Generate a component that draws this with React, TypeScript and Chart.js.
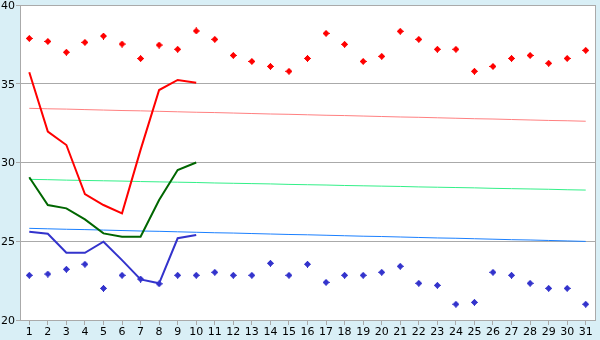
import React, { useEffect, useRef } from "react";
import { Chart, registerables } from "chart.js";

Chart.register(...registerables);

const days = Array.from({ length: 31 }, (_, i) => String(i + 1));

const maxPoints = [37.88, 37.69, 37.0, 37.63, 38.03, 37.52, 36.6, 37.46, 37.19, 38.35, 37.82, 36.8, 36.42, 36.1, 35.79, 36.61, 38.2, 37.5, 36.42, 36.74, 38.33, 37.82, 37.19, 37.19, 35.79, 36.1, 36.61, 36.8, 36.3, 36.61, 37.12];
const minPoints = [22.84, 22.92, 23.22, 23.54, 22.01, 22.84, 22.6, 22.3, 22.84, 22.84, 23.03, 22.84, 22.84, 23.6, 22.84, 23.54, 22.39, 22.84, 22.84, 23.03, 23.41, 22.33, 22.2, 21.0, 21.12, 23.03, 22.84, 22.33, 22.01, 22.01, 21.0];

const redLine = [35.73, 31.96, 31.11, 28.0, 27.3, 26.77, 30.8, 34.6, 35.24, 35.07];
const greenLine = [29.06, 27.3, 27.09, 26.39, 25.5, 25.29, 25.29, 27.62, 29.52, 30.0];
const blueLine = [25.61, 25.48, 24.27, 24.27, 24.97, 23.8, 22.58, 22.33, 25.19, 25.4];

const redTrend = [33.44, 33.41, 33.39, 33.36, 33.33, 33.30, 33.28, 33.25, 33.22, 33.19, 33.17, 33.14, 33.11, 33.08, 33.06, 33.03, 33.00, 32.98, 32.95, 32.92, 32.89, 32.87, 32.84, 32.81, 32.78, 32.76, 32.73, 32.70, 32.67, 32.65, 32.62];
const greenTrend = [28.93, 28.91, 28.88, 28.86, 28.84, 28.82, 28.79, 28.77, 28.75, 28.73, 28.70, 28.68, 28.66, 28.64, 28.61, 28.59, 28.57, 28.54, 28.52, 28.50, 28.48, 28.45, 28.43, 28.41, 28.39, 28.36, 28.34, 28.32, 28.30, 28.27, 28.25];
const blueTrend = [25.82, 25.79, 25.76, 25.74, 25.71, 25.68, 25.65, 25.63, 25.60, 25.57, 25.54, 25.52, 25.49, 25.46, 25.43, 25.41, 25.38, 25.35, 25.32, 25.30, 25.27, 25.24, 25.21, 25.19, 25.16, 25.13, 25.10, 25.08, 25.05, 25.02, 24.99];

const yMin = 20;
const yMax = 40;
const yStep = 5;

const pad = (arr: number[]) => days.map((_, i) => (i < arr.length ? arr[i] : null));

const markerPattern = ["...X...", "..XXX..", ".XXXXX.", "XXXXXXX", ".XXXXX.", "..XXX..", "...X..."];

function makeMarker(color: string): HTMLCanvasElement {
  const c = document.createElement("canvas");
  const n = markerPattern.length;
  c.width = n;
  c.height = n;
  const ctx = c.getContext("2d")!;
  ctx.fillStyle = color;
  markerPattern.forEach((row, y) => {
    for (let x = 0; x < row.length; x++) if (row[x] === "X") ctx.fillRect(x, y, 1, 1);
  });
  return c;
}

const bgPlugin = {
  id: "bgPlugin",
  beforeDraw(chart: any) {
    const { ctx, chartArea, width, height } = chart;
    ctx.save();
    ctx.fillStyle = "#d9eff6";
    ctx.fillRect(0, 0, width, height);
    ctx.fillStyle = "#ffffff";
    ctx.fillRect(chartArea.left, chartArea.top, chartArea.right - chartArea.left, chartArea.bottom - chartArea.top);
    ctx.restore();
  },
  afterDraw(chart: any) {
    const { ctx, chartArea } = chart;
    ctx.save();
    ctx.strokeStyle = "#aaaaaa";
    ctx.lineWidth = 1;
    ctx.beginPath();
    const x = Math.round(chartArea.right) + 0.5;
    ctx.moveTo(x, chartArea.top);
    ctx.lineTo(x, chartArea.bottom);
    ctx.stroke();
    ctx.restore();
  },
};

export default function App() {
  const ref = useRef<HTMLCanvasElement>(null);
  useEffect(() => {
    if (!ref.current) return;
    const font = { family: "DejaVu Sans", size: 11 };
    const redMarker = makeMarker("#ff0000");
    const blueMarker = makeMarker("#3333cc");
    const chart = new Chart(ref.current, {
      type: "line",
      data: {
        labels: days,
        datasets: [
          { data: pad(redLine), borderColor: "#ff0000", borderWidth: 2, pointRadius: 0, tension: 0 },
          { data: pad(greenLine), borderColor: "#006600", borderWidth: 2, pointRadius: 0, tension: 0 },
          { data: pad(blueLine), borderColor: "#3333cc", borderWidth: 2, pointRadius: 0, tension: 0 },
          { data: maxPoints, showLine: false, pointStyle: redMarker, pointRadius: 3, borderColor: "#ff0000", backgroundColor: "#ff0000" },
          { data: minPoints, showLine: false, pointStyle: blueMarker, pointRadius: 3, borderColor: "#3333cc", backgroundColor: "#3333cc" },
          { data: redTrend, borderColor: "#ff8080", borderWidth: 1, pointRadius: 0, tension: 0 },
          { data: greenTrend, borderColor: "#33f088", borderWidth: 1, pointRadius: 0, tension: 0 },
          { data: blueTrend, borderColor: "#1a80ff", borderWidth: 1, pointRadius: 0, tension: 0 },
        ],
      } as any,
      options: {
        animation: false,
        responsive: false,
        maintainAspectRatio: false,
        layout: { padding: { top: 5, right: 5, left: 0, bottom: 0 } },
        plugins: { legend: { display: false }, tooltip: { enabled: false } },
        scales: {
          x: {
            type: "category",
            offset: true,
            grid: { display: true, drawOnChartArea: false, drawTicks: true, tickLength: 5, color: "#aaaaaa", offset: false },
            border: { display: true, color: "#aaaaaa" },
            ticks: { font, color: "#000000", maxRotation: 0, autoSkip: false, padding: 1 },
            afterFit: (s: any) => {
              s.height = 20;
              s.paddingLeft = 0;
              s.paddingRight = 0;
            },
          },
          y: {
            min: yMin,
            max: yMax,
            ticks: { stepSize: yStep, font, color: "#000000", padding: 1, labelOffset: 1 },
            grid: { color: "#aaaaaa", tickLength: 4 },
            border: { display: true, color: "#aaaaaa" },
            afterFit: (s: any) => {
              s.width = 20;
              s.paddingTop = 0;
              s.paddingBottom = 0;
            },
          },
        },
      } as any,
      plugins: [bgPlugin],
    });
    return () => chart.destroy();
  }, []);
  return (
    <div style={{ position: "fixed", left: 0, top: 0, width: 600, height: 340 }}>
      <canvas ref={ref} width={600} height={340} style={{ display: "block" }} />
    </div>
  );
}
